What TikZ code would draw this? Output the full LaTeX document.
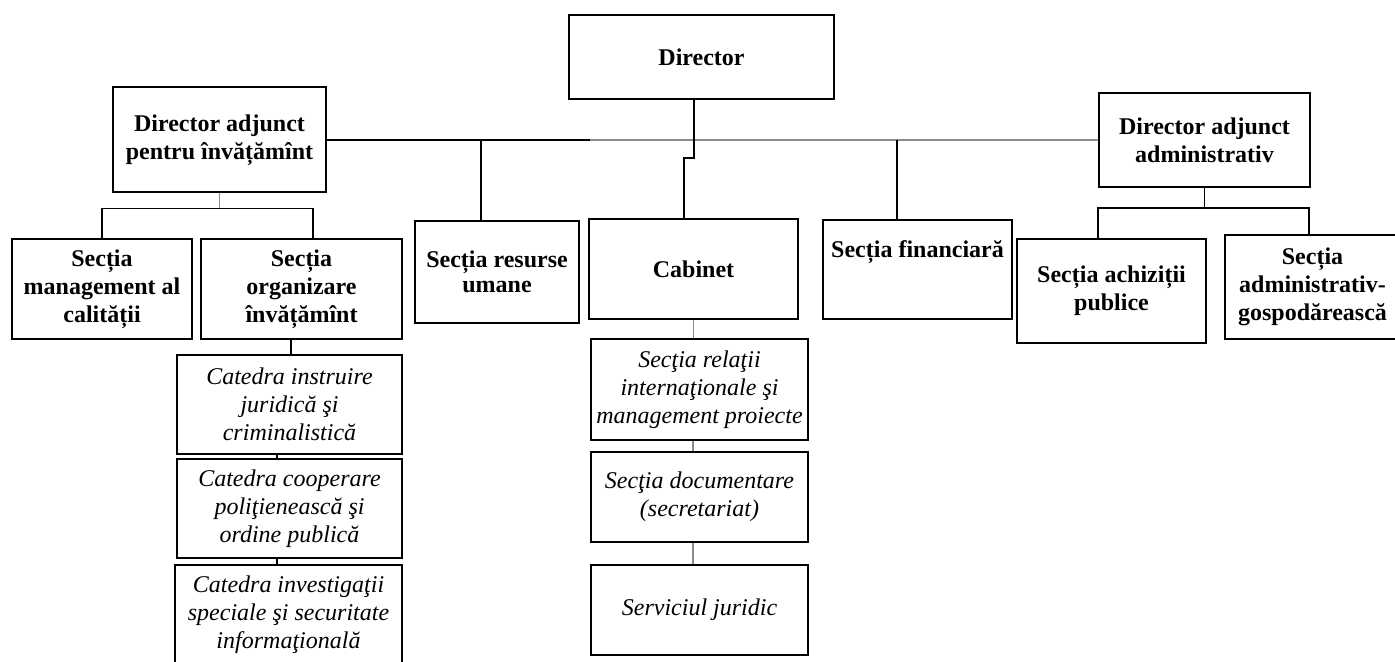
\documentclass[tikz,border=0pt]{standalone}
\usepackage{fontspec}
\setmainfont{Liberation Serif}
\usepackage{tikz}

\begin{document}
\begin{tikzpicture}[x=0.5pt, y=-0.5pt,
		box/.style={draw, line width=1pt, inner sep=0pt, align=center, font=\fontsize{12}{14}\selectfont\bfseries},
		catbox/.style={box, font=\fontsize{12}{14}\selectfont\itshape},
		link/.style={line width=0.75pt},
		faint/.style={line width=0.75pt, black!45}]
			%%%%% START %%%%%
			\clip (0, 0) rectangle (1395, 662);
			
			\node[box, minimum width=132.5pt, minimum height=42pt] (dir) at (701.5, 57) {Director};
			\node[box, minimum width=106.5pt, minimum height=52.5pt] (dap) at (219.5, 140) {Director adjunct\\pentru învățămînt};
			\node[box, minimum width=105.5pt, minimum height=47pt] (dad) at (1204.5, 140) {Director adjunct\\administrativ};
			
			\node[box, minimum width=90pt, minimum height=50pt] (scal) at (102, 289) {Secția\\management al\\calității};
			\node[box, minimum width=100.5pt, minimum height=50pt] (sorg) at (301.5, 289) {Secția\\organizare\\învățămînt};
			\node[box, minimum width=82pt, minimum height=51pt] (sres) at (497, 272) {Secția resurse\\[-1.5pt]umane};
			\node[box, minimum width=104.5pt, minimum height=50pt] (cab) at (693.5, 269) {Cabinet};
			\node[box, minimum width=94.5pt, minimum height=49.5pt] (sfin) at (917.5, 269.5) {Secția financiară\\[6pt]};
			\node[box, minimum width=94.5pt, minimum height=52pt] (sach) at (1111.5, 291) {Secția achiziții\\publice};
			\node[box, minimum width=87.5pt, minimum height=52pt] (sadm) at (1312.5, 287) {Secția\\administrativ-\\gospodărească};
			
			\node[catbox, minimum width=112.5pt, minimum height=49.5pt] (cat1) at (289.5, 404.5) {Catedra instruire\\juridică şi\\criminalistică};
			\node[catbox, minimum width=112.5pt, minimum height=49.5pt] (cat2) at (289.5, 508.5) {Catedra cooperare\\poliţienească şi\\ordine publică};
			\node[catbox, minimum width=113.5pt, minimum height=49.5pt] (cat3) at (288.5, 614.5) {Catedra investigaţii\\speciale şi securitate\\informaţională};
			
			\node[catbox, minimum width=108.5pt, minimum height=50.5pt] (srel) at (699.5, 389.5) {Secţia relaţii\\internaţionale şi\\management proiecte};
			\node[catbox, minimum width=108.5pt, minimum height=45pt] (sdoc) at (699.5, 497) {Secţia documentare\\(secretariat)};
			\node[catbox, minimum width=108.5pt, minimum height=45pt] (sjur) at (699.5, 610) {Serviciul juridic};
			
			% main line
			\coordinate (fade) at (590, 140);
			\draw[link] (dap.east) -- (fade);
			\draw[faint] (fade) -- (dad.west);
			\draw[link] ([xshift=-3.75pt]dir.south) -- ++(0, 58) -- ++(-10, 0) -- ([xshift=-4.75pt]cab.north);
			\draw[link] ([xshift=-8pt]sres.north) -- ([xshift=-8pt]sres.north |- dap.east);
			\draw[link] ([xshift=-10.25pt]sfin.north) -- ([xshift=-10.25pt]sfin.north |- dad.west);
			
			% left branch
			\draw[faint] (dap.south) -- ([yshift=-7.5pt]dap.south);
			\draw[link] (scal.north) |- ([yshift=-7.5pt]dap.south) -| ([xshift=5.75pt]sorg.north);
			\draw[link] ([xshift=-5.25pt]sorg.south) -- ([xshift=-5.25pt]sorg.south |- cat1.north);
			\draw[link] ([xshift=-6.25pt]cat1.south) -- ([xshift=-6.25pt]cat1.south |- cat2.north);
			\draw[link] ([xshift=-6.25pt]cat2.south) -- ([xshift=-6.25pt]cat2.south |- cat3.north);
			
			% right branch
			\draw[link] (dad.south) -- ([yshift=-10pt]dad.south);
			\draw[link] ([xshift=-6.75pt]sach.north) |- ([yshift=-10pt]dad.south) -| ([xshift=-1.75pt]sadm.north);
			
			% cabinet
			\draw[faint] (cab.south) -- (cab.south |- srel.north);
			\draw[faint] ([xshift=-3.25pt]srel.south) -- ([xshift=-3.25pt]srel.south |- sdoc.north);
			\draw[faint] ([xshift=-3.25pt]sdoc.south) -- ([xshift=-3.25pt]sdoc.south |- sjur.north);
			%%%%% END %%%%%
		\end{tikzpicture}
\end{document}
